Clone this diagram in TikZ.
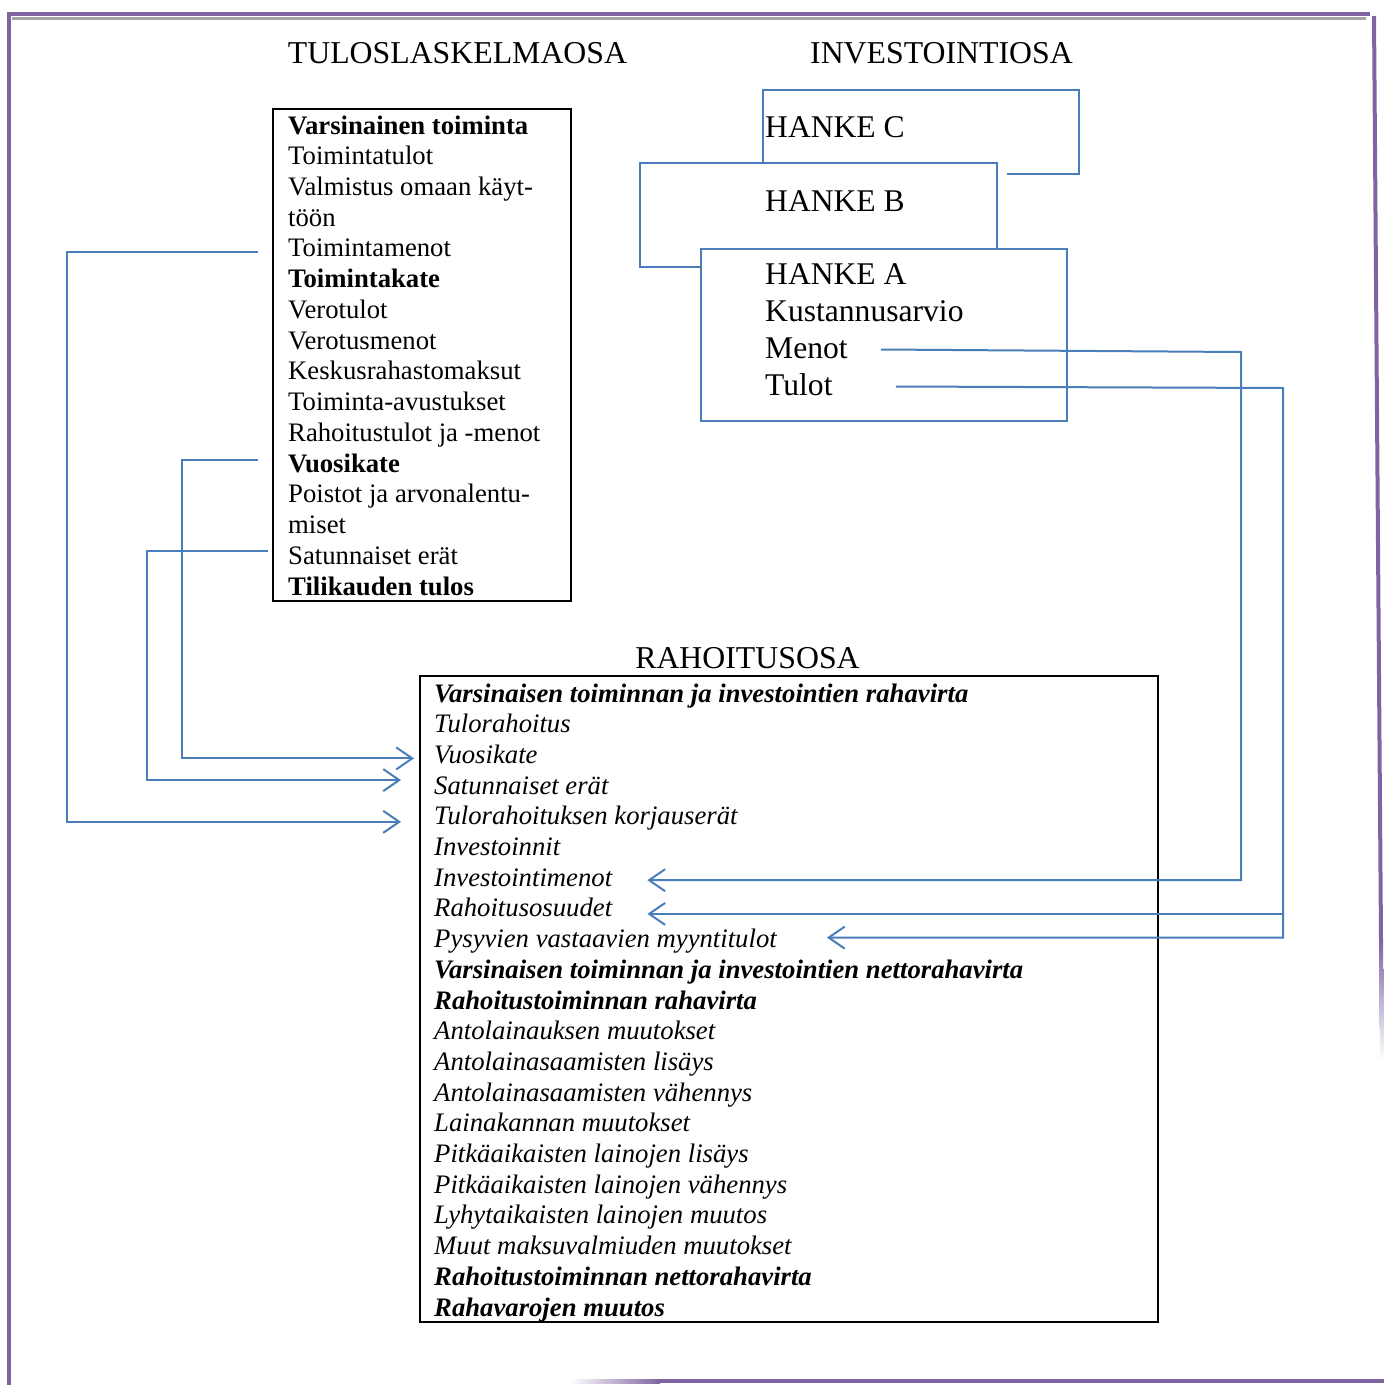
\documentclass[tikz,border=0pt]{standalone}
\usepackage{fontspec}
\setmainfont{Liberation Serif}
\usetikzlibrary{positioning, arrows.meta, calc}
\definecolor{hankeblue}{RGB}{74,126,187}
\definecolor{borderpurple}{RGB}{128,100,162}
\definecolor{shadowgray}{RGB}{165,165,165}

\begin{document}
\begin{tikzpicture}[
        x=1pt, y=-1pt,
        heading/.style={anchor=base, inner sep=0pt, font=\fontsize{31.8}{37}\selectfont},
        item/.style={anchor=base west, inner sep=0pt, text height=20pt, text depth=6pt, font=\fontsize{26.7}{30.7}\selectfont},
        itembold/.style={item, font=\fontsize{26.7}{30.7}\selectfont\bfseries},
        itemit/.style={item, font=\fontsize{26.7}{30.7}\selectfont\itshape},
        itembi/.style={item, font=\fontsize{26.7}{30.7}\selectfont\bfseries\itshape},
        hankeitem/.style={anchor=base west, inner sep=0pt, text height=24pt, text depth=7pt, font=\fontsize{31.6}{37}\selectfont},
        hankebox/.style={draw=hankeblue, line width=2pt, fill=white, inner sep=0pt},
        listbox/.style={draw, line width=2pt, inner sep=0pt},
        link/.style={draw=hankeblue, line width=2pt},
        arrow/.style={link, -{Straight Barb[length=16pt, width=22pt]}}
    ]
    \useasboundingbox (0,0) rectangle (1384,1385);

    % Page frame
    \draw[shadowgray, line width=3pt] (12,18) -- (1366,18);
    \draw[borderpurple, line width=4pt] (7,14) -- (1370,14);
    \draw[borderpurple, line width=4pt] (9,12) -- (9,1385);
    \draw[borderpurple, line width=4pt] (1374,16) -- (1381,940);
    \shade[top color=borderpurple, bottom color=white] (1379,940) -- (1383,940) -- (1384,1060) -- (1380,1060) -- cycle;
    \draw[borderpurple, line width=4pt] (660,1381) -- (1384,1381);
    \shade[left color=white, right color=borderpurple] (570,1379) rectangle (660,1383);

    % Headings
    \node[heading] (tulosotsikko) at (457.5,63) {TULOSLASKELMAOSA};
    \node[heading] (investotsikko) at (941.5,63) {INVESTOINTIOSA};
    \node[heading] (rahoitusotsikko) at (747.5,668) {RAHOITUSOSA};

    % Tuloslaskelma
    \node[listbox, minimum width=298pt, minimum height=492pt] (tulos) at (422,355) {};
    \node[itembold] (t1) at (288,134) {Varsinainen toiminta};
    \node[item] (t2) at (288,164.7) {Toimintatulot};
    \node[item] (t3) at (288,195.5) {Valmistus omaan käyt-};
    \node[item] (t4) at (288,226.2) {töön};
    \node[item] (t5) at (288,256.9) {Toimintamenot};
    \node[itembold] (t6) at (288,287.7) {Toimintakate};
    \node[item] (t7) at (288,318.4) {Verotulot};
    \node[item] (t8) at (288,349.1) {Verotusmenot};
    \node[item] (t9) at (288,379.8) {Keskusrahastomaksut};
    \node[item] (t10) at (288,410.6) {Toiminta-avustukset};
    \node[item] (t11) at (288,441.3) {Rahoitustulot ja -menot};
    \node[itembold] (t12) at (288,472.0) {Vuosikate};
    \node[item] (t13) at (288,502.8) {Poistot ja arvonalentu-};
    \node[item] (t14) at (288,533.5) {miset};
    \node[item] (t15) at (288,564.2) {Satunnaiset erät};
    \node[itembold] (t16) at (288,595.0) {Tilikauden tulos};

    % Hankkeet
    \node[hankebox, minimum width=316pt, minimum height=84pt] (hankeC) at (921,132) {};
    \node[hankeitem] (hankeCnimi) at (765,137) {HANKE C};
    \fill[white] (997,163) rectangle (1007,249);
    \node[hankebox, minimum width=357pt, minimum height=104pt] (hankeB) at (818.5,215) {};
    \node[hankeitem] (hankeBnimi) at (765,211) {HANKE B};
    \node[hankebox, minimum width=366pt, minimum height=172pt] (hankeA) at (884,335) {};
    \node[hankeitem] (hankeAnimi) at (765,284) {HANKE A};
    \node[hankeitem] (kustannus) at (765,321) {Kustannusarvio};
    \node[hankeitem] (menot) at (765,358) {Menot};
    \node[hankeitem] (tulot) at (765,395) {Tulot};

    % Rahoitus
    \node[listbox, minimum width=738pt, minimum height=646pt] (rahoitus) at (789,999) {};
    \node[itembi] (r1) at (434,702.0) {Varsinaisen toiminnan ja investointien rahavirta};
    \node[itemit] (r2) at (434,732.7) {Tulorahoitus};
    \node[itemit] (r3) at (434,763.4) {Vuosikate};
    \node[itemit] (r4) at (434,794.1) {Satunnaiset erät};
    \node[itemit] (r5) at (434,824.8) {Tulorahoituksen korjauserät};
    \node[itemit] (r6) at (434,855.5) {Investoinnit};
    \node[itemit] (r7) at (434,886.2) {Investointimenot};
    \node[itemit] (r8) at (434,916.9) {Rahoitusosuudet};
    \node[itemit] (r9) at (434,947.6) {Pysyvien vastaavien myyntitulot};
    \node[itembi] (r10) at (434,978.3) {Varsinaisen toiminnan ja investointien nettorahavirta};
    \node[itembi] (r11) at (434,1009.0) {Rahoitustoiminnan rahavirta};
    \node[itemit] (r12) at (434,1039.7) {Antolainauksen muutokset};
    \node[itemit] (r13) at (434,1070.4) {Antolainasaamisten lisäys};
    \node[itemit] (r14) at (434,1101.1) {Antolainasaamisten vähennys};
    \node[itemit] (r15) at (434,1131.8) {Lainakannan muutokset};
    \node[itemit] (r16) at (434,1162.5) {Pitkäaikaisten lainojen lisäys};
    \node[itemit] (r17) at (434,1193.2) {Pitkäaikaisten lainojen vähennys};
    \node[itemit] (r18) at (434,1223.9) {Lyhytaikaisten lainojen muutos};
    \node[itemit] (r19) at (434,1254.6) {Muut maksuvalmiuden muutokset};
    \node[itembi] (r20) at (434,1285.3) {Rahoitustoiminnan nettorahavirta};
    \node[itembi] (r21) at (434,1316.0) {Rahavarojen muutos};

    % Tuloslaskelmasta rahoitusosaan
    \draw[arrow] ([shift={(-30,2)}]t5.west) -- ++(-191,0) |- ([shift={(-33,4)}]r5.west);
    \draw[arrow] ([shift={(-30,-5)}]t12.west) -- ++(-76,0) |- ([shift={(-20,2)}]r3.west);
    \draw[arrow] ([shift={(-20,-6)}]t15.west) -- ++(-121,0) |- ([shift={(-33,-7)}]r4.west);

    % Investointiosasta rahoitusosaan
    \coordinate (menotturn) at (1241,352);
    \coordinate (tulotturn) at (1283,388);
    \coordinate (rahoitustip) at ([shift={(35,4)}]r8.east);
    \draw[arrow] ([xshift=33pt]menot.east) -- (menotturn) |- ([shift={(35,1)}]r7.east);
    \draw[arrow] ([xshift=63pt]tulot.east) -- (tulotturn) |- ([shift={(50,-3)}]r9.east);
    \draw[arrow] (rahoitustip -| tulotturn) -- (rahoitustip);

\end{tikzpicture}
\end{document}
